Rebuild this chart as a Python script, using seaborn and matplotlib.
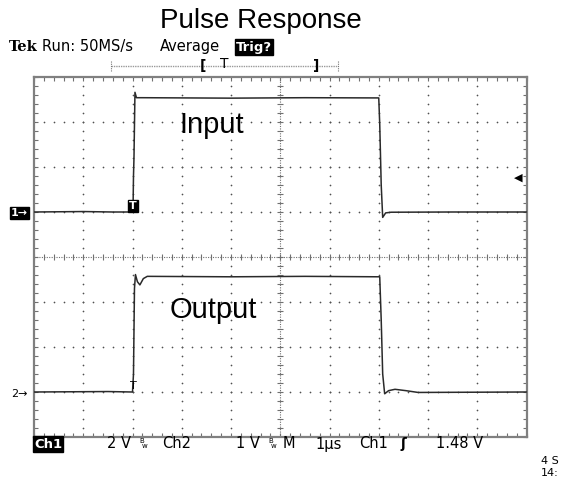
import numpy as np
import pandas as pd
import matplotlib
matplotlib.use("Agg")
import matplotlib.pyplot as plt
import seaborn as sns

# ---- data (time in µs, volts) ----
ch1_time = [0.0, 1.0, 1.6, 2.01, 2.02, 2.03, 2.05, 2.08, 2.2, 4.0, 5.5, 7.0, 7.02, 7.05, 7.08, 7.14, 7.25, 8.5, 10.0]
ch1_volt = [0.0, 0.02, 0.0, 0.0, 1.6, 2.4, 5.32, 5.08, 5.08, 5.06, 5.08, 5.07, 3.9, 1.2, -0.24, -0.04, -0.01, 0.0, 0.0]
ch2_time = [0.0, 1.5, 2.0, 2.02, 2.04, 2.06, 2.1, 2.15, 2.22, 2.3, 4.0, 5.5, 7.02, 7.05, 7.08, 7.12, 7.2, 7.33, 7.55, 7.8, 10.0]
ch2_volt = [0.0, 0.01, 0.0, 0.4, 2.3, 2.61, 2.45, 2.38, 2.52, 2.57, 2.56, 2.57, 2.56, 1.6, 0.4, -0.04, 0.03, 0.06, 0.03, -0.01, 0.0]
ch1_scale = 2.0   # V/div
ch2_scale = 1.0   # V/div
ch1_offset = 1.0  # div
ch2_offset = -3.0 # div
time_per_div = 1.0  # µs/div

title = "Pulse Response"
labels = {"Input": (212, 125), "Output": (213, 310)}

sns.set_style("white")
plt.rcParams['font.family'] = ['DejaVu Sans']
plt.rcParams['text.color'] = 'black'

W, H = 565, 479
fig = plt.figure(figsize=(W / 100, H / 100), dpi=100)
L, R, T, B = 34, 526.5, 77, 437
ax = fig.add_axes([L / W, 1 - B / H, (R - L) / W, (B - T) / H])
ax.set_xlim(0, 10)
ax.set_ylim(-4, 4)

# graticule dots
dot_c = "#505050"
steps = np.arange(0, 10.001, 0.2)
vsteps = np.arange(-4, 4.001, 0.2)
for gx in range(1, 10):
    if gx == 5:
        continue
    ax.scatter(np.full(vsteps.shape, gx), vsteps, s=1.5, color=dot_c, linewidths=0, zorder=1)
for gy in range(-3, 4):
    if gy == 0:
        continue
    ax.scatter(steps, np.full(steps.shape, gy), s=1.5, color=dot_c, linewidths=0, zorder=1)

# center cross with ticks
ax.axhline(0, color="#707070", lw=0.8, ls=(0, (1, 1.2)), zorder=1)
ax.axvline(5, color="#707070", lw=0.8, ls=(0, (1, 1.2)), zorder=1)
ax.plot(steps, np.zeros_like(steps), ls="none", marker="|", ms=5, mew=0.8, color="#707070", zorder=1)
ax.plot(np.full(vsteps.shape, 5), vsteps, ls="none", marker="_", ms=5, mew=0.8, color="#707070", zorder=1)

# frame ticks
ax.set_xticks(steps)
ax.set_yticks(vsteps)
ax.tick_params(axis="both", which="both", direction="in", length=3, width=0.8, color="#707070",
               labelbottom=False, labelleft=False, top=True, right=True, bottom=True, left=True)
for s in ax.spines.values():
    s.set_color("#808080")
    s.set_linewidth(1.6)

# waveforms
df1 = pd.DataFrame({"t": np.array(ch1_time) / time_per_div,
                    "y": np.array(ch1_volt) / ch1_scale + ch1_offset})
df2 = pd.DataFrame({"t": np.array(ch2_time) / time_per_div,
                    "y": np.array(ch2_volt) / ch2_scale + ch2_offset})
sns.lineplot(data=df1, x="t", y="y", ax=ax, color="#2a2a2a", lw=1.1, estimator=None, sort=False, zorder=3)
sns.lineplot(data=df2, x="t", y="y", ax=ax, color="#2a2a2a", lw=1.1, estimator=None, sort=False, zorder=3)
ax.set_xlabel("")
ax.set_ylabel("")


def px(x, y):
    return x / W, 1 - y / H


# titles / labels
fig.text(*px(261, 21), title, fontsize=20, family="Liberation Sans", ha="center", va="center")
for txt, (x, y) in labels.items():
    fig.text(*px(x, y), txt, fontsize=21, family="Liberation Sans", ha="center", va="center")

# header
mono = dict(fontsize=10.5, va="center")
fig.text(*px(9, 47), "Tek", family="DejaVu Serif", fontweight="bold", fontsize=10.5, va="center")
fig.text(*px(42, 47), "Run: 50MS/s", **mono)
fig.text(*px(160, 47), "Average", **mono)
fig.text(*px(236, 47), "Trig?", fontsize=9.5, va="center", color="white", fontweight="bold",
         bbox=dict(boxstyle="square,pad=0.1", fc="black", ec="black"))

# record bar
bar_y = 1 - 66 / H
fig.add_artist(plt.Line2D([111 / W, 338 / W], [bar_y, bar_y], color="#999999", lw=1.0, ls=(0, (1, 0.7))))
fig.add_artist(plt.Line2D([111 / W, 111 / W], [bar_y - 5 / H, bar_y + 5 / H], color="#777777", lw=0.8, ls=(0, (1, 1))))
fig.add_artist(plt.Line2D([338 / W, 338 / W], [bar_y - 5 / H, bar_y + 5 / H], color="#777777", lw=0.8, ls=(0, (1, 1))))
fig.text(*px(203, 66), "[", fontsize=10, ha="center", va="center", fontweight="bold")
fig.text(*px(316, 66), "]", fontsize=10, ha="center", va="center", fontweight="bold")
fig.text(*px(224, 64), "T", fontsize=10, ha="center", va="center")

# channel markers
fig.text(*px(11, 213), "1→", fontsize=8, color="white", va="center", fontweight="bold",
         bbox=dict(boxstyle="square,pad=0.1", fc="black", ec="black"))
fig.text(*px(11, 394), "2→", fontsize=8, color="black", va="center")
fig.text(*px(133, 206), "T", fontsize=8, color="white", ha="center", va="center", fontweight="bold",
         bbox=dict(boxstyle="square,pad=0.08", fc="black", ec="black"))
fig.text(*px(133, 386), "T", fontsize=8, color="black", ha="center", va="center")
fig.text(*px(518, 178), "◀", fontsize=8, color="black", ha="center", va="center")

# bottom readout
by = 444
fig.text(*px(34, by), "Ch1", fontsize=9.5, color="white", va="center", fontweight="bold",
         bbox=dict(boxstyle="square,pad=0.1", fc="black", ec="black"))
fig.text(*px(107, by), "2 V", **mono)
fig.text(*px(139, by - 3), "B", fontsize=5, va="center")
fig.text(*px(142, by + 2), "w", fontsize=5, va="center")
fig.text(*px(162, by), "Ch2", **mono)
fig.text(*px(236, by), "1 V", **mono)
fig.text(*px(268, by - 3), "B", fontsize=5, va="center")
fig.text(*px(271, by + 2), "w", fontsize=5, va="center")
fig.text(*px(283, by), "M", **mono)
fig.text(*px(315, by), "1µs", **mono)
fig.text(*px(359, by), "Ch1", **mono)
fig.text(*px(400, by), "ʃ", fontsize=10, va="center", fontweight="bold")
fig.text(*px(436, by), "1.48 V", **mono)
fig.text(*px(541, 464), "4 S", fontsize=8, va="baseline")
fig.text(*px(541, 476), "14:", fontsize=8, va="baseline")

fig.savefig("out.png", dpi=100)
